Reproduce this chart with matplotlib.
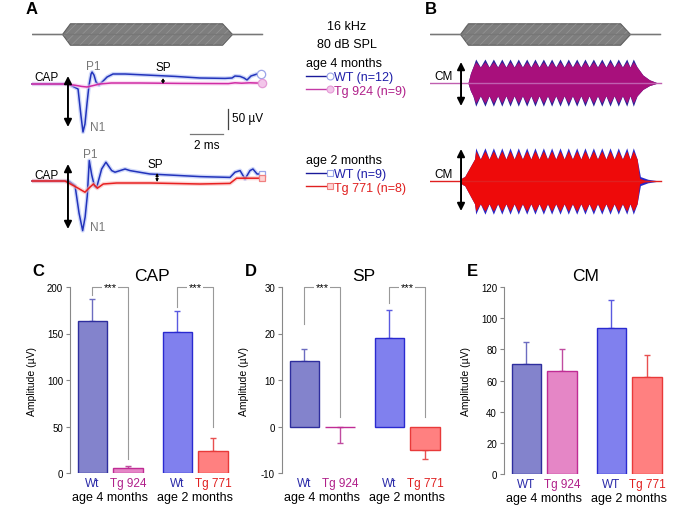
import numpy as np
import matplotlib
matplotlib.use("Agg")
import matplotlib.pyplot as plt
from matplotlib.lines import Line2D
from matplotlib.legend_handler import HandlerBase

plt.rcParams["font.family"] = ["Liberation Sans", "DejaVu Sans"]
plt.rcParams["axes.unicode_minus"] = False
plt.rcParams["hatch.linewidth"] = 0.6

W, H = 687, 506

# ---- data ----
# tone burst envelope (ms, relative)
stim_t = [0.0, 1.82, 2.30, 11.52, 12.12, 13.94]
stim_env = [0, 0, 1, 1, 0, 0]

# CAP averages, 4 month cohort (ms, uV)
cap4_wt_t = [0, 2.2, 2.79, 2.97, 3.09, 3.21, 3.33, 3.45, 3.58, 3.64, 3.76, 3.88, 4.06,
             4.30, 4.55, 4.91, 5.64, 7.15, 8.67, 10.18, 11.70, 12.12, 12.30, 12.61,
             12.85, 13.03, 13.27, 13.64, 13.88]
cap4_wt_v = [0, 0, -12.5, -80, -120, -100, -50, -5, 25, 30, 22, 5, -2.5,
             7, 17.5, 25, 25, 22, 19, 15, 14, 15, 20, 19,
             15, 10, 20, 25, 25]
cap4_tg_t = [0, 2.0, 2.6, 3.0, 3.33, 3.7, 4.1, 4.8, 6.5, 9.0, 11.9, 12.3, 12.7, 13.2, 13.94]
cap4_tg_v = [0, 0, -3, -6, -7.5, -4, 0, 2.5, 2.5, 1.5, 1, 3, 2, 3, 2]

# CAP averages, 2 month cohort (ms, uV)
cap2_wt_t = [0, 2.2, 2.61, 2.85, 3.07, 3.22, 3.35, 3.47, 3.62, 3.78, 3.92, 4.22, 4.48,
             4.83, 5.03, 5.64, 5.94, 7.15, 10.18, 12.0, 12.3, 12.61, 12.91, 13.21,
             13.39, 13.64, 13.92]
cap2_wt_v = [0, 0, -12, -80, -124, -90, -37, 51, 15, -12, -16, 30, 47,
             26, 22, 30, 26, 17.5, 11, 9, 22, 26, 5, 26,
             30, 17.5, 17.5]
cap2_tg_t = [0, 2.0, 2.71, 3.21, 3.52, 3.72, 3.96, 4.32, 5.13, 7.15, 10.18, 12.0, 12.4, 13.92]
cap2_tg_v = [0, 0, -16, -28, -15, -7.5, -18, -7.5, -5, -5, -7.5, -6, 7, 7]

# cochlear microphonic envelope: beat peaks / troughs (ms)
cm_peak_t = [2.77, 3.33, 3.84, 4.35, 4.85, 5.35, 5.86, 6.36, 6.87, 7.37, 7.88, 8.38,
             8.89, 9.39, 9.90, 10.41, 10.91, 11.41, 11.92, 12.32]
cm_trough_t = [3.05, 3.58, 4.10, 4.60, 5.10, 5.60, 6.11, 6.61, 7.12, 7.62, 8.13, 8.63,
               9.14, 9.64, 10.15, 10.66, 11.16, 11.66, 12.12]
cm4_on_t, cm4_on_f = [2.30, 2.45, 2.60], [0.0, 0.6, 1.0]
cm4_off_t, cm4_off_f = [12.55, 12.9, 13.3, 13.8], [1.0, 0.5, 0.2, 0.0]
cm2_on_t, cm2_on_f = [1.82, 1.95, 2.10, 2.70], [0.0, 0.15, 0.2, 1.0]
cm2_wt_off_t, cm2_wt_off_f = [12.55, 12.75, 13.2, 13.9], [1.0, 0.2, 0.08, 0.0]
cm2_tg_off_t, cm2_tg_off_f = [12.55, 12.7, 13.0, 13.8], [1.0, 0.12, 0.04, 0.0]
# (peak, trough) levels of the upper and lower edge, uV
cm4_wt_top, cm4_wt_bot = (60, 40), (-58, -32)
cm4_tg_top, cm4_tg_bot = (53, 40), (-50, -32)
cm2_wt_top, cm2_wt_bot = (83, 55), (-83, -57)
cm2_tg_top, cm2_tg_bot = (75, 55), (-75, -57)

# bar charts
bar_labels = ["Wt", "Tg 924", "Wt", "Tg 771"]
cm_bar_labels = ["WT", "Tg 924", "WT", "Tg 771"]
group_labels = ["age 4 months", "age 2 months"]
cap_vals = [163, 5, 152, 24]
cap_err = [24, 2, 22, 14]
sp_vals = [14, -0.2, 19, -5]
sp_err = [2.7, 3.3, 6, 2]
cm_vals = [70.5, 66, 93.5, 62]
cm_err = [14, 14.5, 18, 14.5]

# ---- styles ----
fills = ["#8383cc", "#e586c6", "#8080ee", "#ff8080"]
edges = ["#2e2e9e", "#c02c94", "#2a2ad0", "#e83a3a"]
errc = ["#6c6cc0", "#c04ca0", "#5a5ae0", "#e85050"]
lblc = ["#2a2aa8", "#b0208a", "#2a2aa8", "#e02020"]
pos = np.array([0, 1, 2.38, 3.38])

fig = plt.figure(figsize=(W / 100, H / 100), dpi=100)


def px_axes(x0, y0, x1, y1):
    a = fig.add_axes([x0 / W, 1 - y1 / H, (x1 - x0) / W, (y1 - y0) / H])
    return a


def trace_axes(x0, y0, x1, y1, ylim):
    a = px_axes(x0, y0, x1, y1)
    a.set_xlim(0, 14.12)
    a.set_ylim(*ylim)
    a.axis("off")
    return a


def draw_stim(a):
    t = np.array(stim_t)
    e = np.array(stim_env)
    a.plot([t[0], t[-1]], [0, 0], color="#777777", lw=1)
    a.fill_between(t, -e, e, facecolor="#7e7e7e", edgecolor="#5e5e5e", lw=0.8)
    a.fill_between(t, -e, e, facecolor="none", edgecolor="#939393", hatch="////", lw=0)


def draw_cap(a, t, v, color, band, marker, mfc, mec):
    a.plot(t, v, color=band, lw=3, alpha=0.55, solid_capstyle="round")
    a.plot(t, v, color=color, lw=1.1, marker=marker, markevery=[len(t) - 1],
           ms=6 if marker == "o" else 5, mfc=mfc, mec=mec, mew=0.9, clip_on=False)


def dbl_arrow(a, x, y0, y1, lw=1.4, ms=11):
    a.annotate("", xy=(x, y1), xytext=(x, y0),
               arrowprops=dict(arrowstyle="<|-|>", color="black", lw=lw,
                               mutation_scale=ms, shrinkA=0, shrinkB=0))


def cm_envelope(on_t, on_f, off_t, off_f, level):
    peak, trough = level
    core = sorted([(p, peak) for p in cm_peak_t] + [(q, trough) for q in cm_trough_t])
    t = [0.0] + on_t + [c[0] for c in core] + off_t + [14.1]
    v = [0.0] + [f * trough for f in on_f] + [c[1] for c in core] + \
        [f * trough for f in off_f] + [0.0]
    return np.array(t), np.array(v)


gray = "#777777"

# ---- panel A ----
ax_s = trace_axes(32, 20, 265, 50, (-1.4, 1.4))
draw_stim(ax_s)

ax_a1 = trace_axes(32, 55, 265, 150, (-162.5, 75))
draw_cap(ax_a1, cap4_wt_t, cap4_wt_v, "#2233bb", "#a9b8f5", "o", "white", "#9aa4e8")
draw_cap(ax_a1, cap4_tg_t, cap4_tg_v, "#d02ca4", "#f6c4ec", "o", "#f3c6ea", "#e59ad6")
dbl_arrow(ax_a1, 2.18, -107.5, 20)
dbl_arrow(ax_a1, 7.94, 0, 15, lw=0.8, ms=4)
ax_a1.text(0.85, 17.5, "CAP", fontsize=8.5, ha="center", va="center")
ax_a1.text(3.7, 45, "P1", fontsize=8.5, ha="center", va="center", color=gray)
ax_a1.text(3.95, -107, "N1", fontsize=8.5, ha="center", va="center", color=gray)
ax_a1.text(7.94, 42.5, "SP", fontsize=8.5, ha="center", va="center")
# calibration bars
ax_a1.plot([11.88, 11.88], [-62.5, -112.5], color="#444444", lw=0.9)
ax_a1.text(12.12, -85, "50 µV", fontsize=8.5, ha="left", va="center")
ax_a1.plot([9.58, 11.58], [-125, -125], color="#777777", lw=0.9)
ax_a1.text(10.58, -152, "2 ms", fontsize=8.5, ha="center", va="center")

ax_a2 = trace_axes(32, 150, 265, 250, (-170, 80))
draw_cap(ax_a2, cap2_wt_t, cap2_wt_v, "#2233bb", "#a9b8f5", "s", "white", "#9aa4e8")
draw_cap(ax_a2, cap2_tg_t, cap2_tg_v, "#e82020", "#f9b3b3", "s", "#ffd3d3", "#f08080")
dbl_arrow(ax_a2, 2.18, -120, 42.5)
dbl_arrow(ax_a2, 7.58, -2.5, 20, lw=0.8, ms=4)
ax_a2.text(0.85, 15, "CAP", fontsize=8.5, ha="center", va="center")
ax_a2.text(3.55, 67.5, "P1", fontsize=8.5, ha="center", va="center", color=gray)
ax_a2.text(3.95, -115, "N1", fontsize=8.5, ha="center", va="center", color=gray)
ax_a2.text(7.5, 42.5, "SP", fontsize=8.5, ha="center", va="center")

# ---- legends ----


class EndMarker(HandlerBase):
    def create_artists(self, legend, orig_handle, xdescent, ydescent, width, height,
                       fontsize, trans):
        y = height / 2 - ydescent
        ln = Line2D([-xdescent, width - xdescent], [y, y], color=orig_handle.get_color(), lw=1)
        mk = Line2D([width - xdescent], [y], ls="none", marker=orig_handle.get_marker(),
                    ms=orig_handle.get_markersize(), mfc=orig_handle.get_markerfacecolor(),
                    mec=orig_handle.get_markeredgecolor(), mew=0.8)
        ln.set_transform(trans)
        mk.set_transform(trans)
        return [ln, mk]


def make_legend(entries, title, y_top, text_colors):
    handles = [Line2D([], [], color=c, marker=m, ms=5, mfc=fc, mec=ec) for c, m, fc, ec, _ in entries]
    lg = fig.legend(handles, [e[4] for e in entries], title=title, loc="upper left",
                    bbox_to_anchor=(306 / W, 1 - y_top / H), frameon=False, fontsize=9,
                    title_fontsize=9, alignment="left", handlelength=1.9,
                    handletextpad=0.3, labelspacing=0.15, borderpad=0, borderaxespad=0,
                    handler_map={Line2D: EndMarker()})
    for txt, c in zip(lg.get_texts(), text_colors):
        txt.set_color(c)
    return lg


make_legend([("#1a1a9a", "o", "white", "#9aa4e8", "WT (n=12)"),
             ("#c43aa6", "o", "#f3c6ea", "#e59ad6", "Tg 924 (n=9)")],
            "age 4 months", 58, ["#1e1ea8", "#b0208a"])
make_legend([("#1a1a9a", "s", "white", "#9aa4e8", "WT (n=9)"),
             ("#e02020", "s", "#ffd3d3", "#f08080", "Tg 771 (n=8)")],
            "age 2 months", 155, ["#1e1ea8", "#e02020"])

fig.text(347 / W, 1 - 27 / H, "16 kHz", fontsize=9, ha="center", va="center")
fig.text(347 / W, 1 - 45 / H, "80 dB SPL", fontsize=9, ha="center", va="center")

# ---- panel B ----
ax_bs = trace_axes(430, 20, 663, 50, (-1.4, 1.4))
draw_stim(ax_bs)

ax_b1 = trace_axes(430, 55, 663, 120, (-90, 72.5))
ax_b1.plot([0, 14.0], [0, 0], color="#c060b0", lw=1)
t, top = cm_envelope(cm4_on_t, cm4_on_f, cm4_off_t, cm4_off_f, cm4_wt_top)
_, bot = cm_envelope(cm4_on_t, cm4_on_f, cm4_off_t, cm4_off_f, cm4_wt_bot)
ax_b1.fill_between(t, bot, top, color="#26229a", lw=0)
t, top = cm_envelope(cm4_on_t, cm4_on_f, cm4_off_t, cm4_off_f, cm4_tg_top)
_, bot = cm_envelope(cm4_on_t, cm4_on_f, cm4_off_t, cm4_off_f, cm4_tg_bot)
ax_b1.fill_between(t, bot, top, color="#a8107c", lw=0)
dbl_arrow(ax_b1, 1.88, -57.5, 52.5)
ax_b1.text(0.85, 17.5, "CM", fontsize=8.5, ha="center", va="center")

ax_b2 = trace_axes(430, 140, 663, 225, (-107.5, 105))
ax_b2.plot([0, 14.0], [0, 0], color="#e02020", lw=1)
t, top = cm_envelope(cm2_on_t, cm2_on_f, cm2_wt_off_t, cm2_wt_off_f, cm2_wt_top)
_, bot = cm_envelope(cm2_on_t, cm2_on_f, cm2_wt_off_t, cm2_wt_off_f, cm2_wt_bot)
ax_b2.fill_between(t, bot, top, color="#2828c8", lw=0)
t, top = cm_envelope(cm2_on_t, cm2_on_f, cm2_tg_off_t, cm2_tg_off_f, cm2_tg_top)
_, bot = cm_envelope(cm2_on_t, cm2_on_f, cm2_tg_off_t, cm2_tg_off_f, cm2_tg_bot)
ax_b2.fill_between(t, bot, top, color="#ee0a0a", lw=0)
dbl_arrow(ax_b2, 1.88, -75, 80)
ax_b2.text(0.85, 17.5, "CM", fontsize=8.5, ha="center", va="center")

# ---- bar panels ----


def bar_panel(x0, y0, y1, vals, errs, labels, ylim, yticks, title):
    a = px_axes(x0, y0, x0 + 163, y1)
    a.set_xlim(-0.62, 3.94)
    a.set_ylim(*ylim)
    for i in range(4):
        a.bar(pos[i], vals[i], width=0.82, color=fills[i], edgecolor=edges[i], lw=1, zorder=2)
        lo, hi = ([0], [errs[i]]) if vals[i] >= 0 else ([errs[i]], [0])
        a.errorbar(pos[i], vals[i], yerr=[lo, hi], fmt="none", ecolor=errc[i],
                   elinewidth=1, capsize=2, capthick=1, zorder=1)
    for s in ("top", "right", "bottom"):
        a.spines[s].set_visible(False)
    a.spines["left"].set_color("#888888")
    a.spines["left"].set_linewidth(0.8)
    a.set_yticks(yticks)
    a.tick_params(axis="y", length=3, width=0.8, color="#888888", labelsize=7, pad=2)
    a.set_xticks(pos)
    a.set_xticklabels(labels)
    a.tick_params(axis="x", length=0, labelsize=8.5, pad=3)
    for tl, c in zip(a.get_xticklabels(), lblc):
        tl.set_color(c)
    tr = a.get_xaxis_transform()
    for gx, g in zip([(pos[0] + pos[1]) / 2, (pos[2] + pos[3]) / 2], group_labels):
        a.text(gx, -0.13, g, transform=tr, ha="center", va="center", fontsize=9)
    a.set_title(title, fontsize=12.5, pad=5)
    a.set_ylabel("Amplitude (µV)", fontsize=7.5)
    a.yaxis.set_label_coords(-0.2, 0.5)
    return a


def bracket(a, x0, x1, y_left, y_top, y_right):
    a.plot([x0, x0, x1, x1], [y_left, y_top, y_top, y_right], color="#999999", lw=0.8,
           zorder=0, clip_on=False)
    a.text((x0 + x1) / 2, y_top, "***", fontsize=8, ha="center", va="center",
           bbox=dict(facecolor="white", edgecolor="none", pad=0.8), zorder=3)


ax_c = bar_panel(70, 288, 474, cap_vals, cap_err, bar_labels, (0, 200), [0, 50, 100, 150, 200], "CAP")
bracket(ax_c, pos[0], pos[1], 191, 200, 15)
bracket(ax_c, pos[2], pos[3], 178, 200, 50)

ax_d = bar_panel(282, 288, 474, sp_vals, sp_err, bar_labels, (-10, 30), [-10, 0, 10, 20, 30], "SP")
bracket(ax_d, pos[0], pos[1], 22, 30, 2)
bracket(ax_d, pos[2], pos[3], 26.5, 30, 2)

ax_e = bar_panel(504, 288, 475, cm_vals, cm_err, cm_bar_labels, (0, 120), [0, 20, 40, 60, 80, 100, 120], "CM")

# panel letters
for lx, ly, s in [(32, 10, "A"), (431, 9, "B"), (38, 272, "C"), (251, 272, "D"), (472, 272, "E")]:
    fig.text(lx / W, 1 - ly / H, s, fontsize=12, fontweight="bold", ha="center", va="center")

fig.savefig("out.png", dpi=100)
